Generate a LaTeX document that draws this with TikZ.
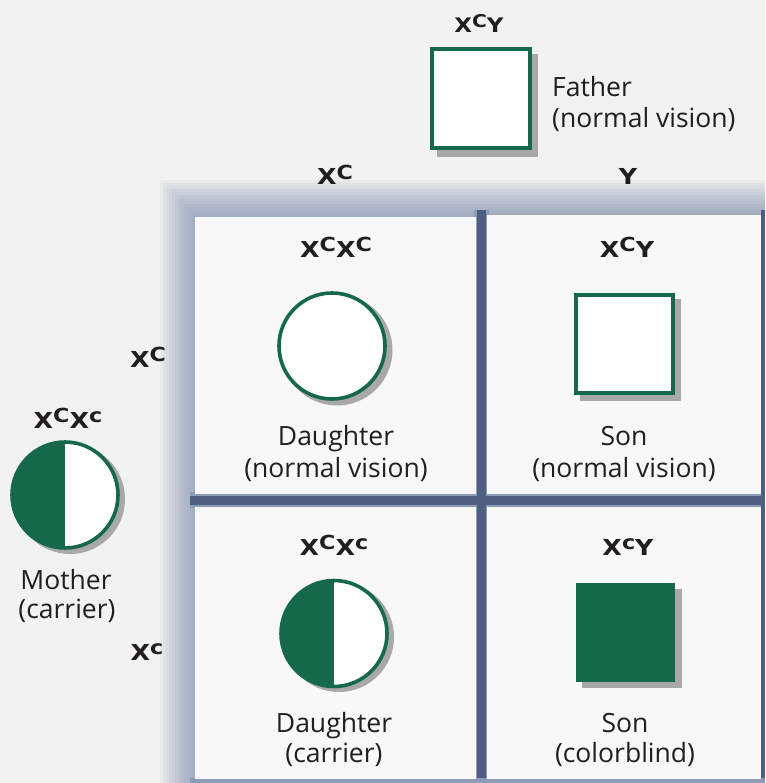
\documentclass[tikz,border=0pt]{standalone}
\usepackage{fontspec}
\setmainfont{Open Sans}
\newfontfamily\genofont{DejaVu Sans}
\usetikzlibrary{calc}
\definecolor{cgreen}{RGB}{22,104,74}
\definecolor{bgc}{RGB}{242,242,242}
\definecolor{tilec}{RGB}{248,248,249}
\definecolor{slate}{RGB}{110,128,160}
\definecolor{gapc}{RGB}{78,95,128}
\definecolor{gapsoft}{RGB}{140,155,182}
\definecolor{shad}{RGB}{168,168,168}
\definecolor{ink}{RGB}{33,30,31}
\newcommand\sx[1]{X\raisebox{0.27em}{\scalebox{0.88}{#1}}}
\newcommand\gs[1]{\scalebox{1.15}[1]{#1}}
\begin{document}
\begin{tikzpicture}[x=1pt,y=-1pt,
  txt/.style={font=\fontsize{26.5}{30}\selectfont, text=ink, anchor=base, inner sep=0pt},
  geno/.style={font=\genofont\bfseries\fontsize{22}{26}\selectfont, text=ink, anchor=base, inner sep=0pt},
  fgeno/.style={font=\genofont\bfseries\fontsize{20}{24}\selectfont, text=ink, anchor=base, inner sep=0pt},
  sqbox/.style={draw=cgreen, line width=4pt, fill=white, inner sep=0pt},
  sqfull/.style={fill=cgreen, inner sep=0pt},
  circ/.style={circle, draw=cgreen, line width=3.6pt, fill=white, inner sep=0pt, minimum size=106pt},
  halfcirc/.style={circ, path picture={\fill[cgreen] (path picture bounding box.south west) rectangle (path picture bounding box.north);}}
]
\useasboundingbox (0,0) rectangle (765,783);
\fill[bgc] (0,0) rectangle (765,783);
% tray behind the tiles
\foreach \i in {0,...,11} \fill[slate,opacity=0.065] ({160+3*\i},{180+3*\i}) rectangle (765,783);
% gaps between tiles (soft edge + dark core)
\fill[gapsoft] (190,492) rectangle (765,508);
\fill[gapsoft] (474,210) rectangle (489,783);
\fill[gapc] (190,496) rectangle (765,505);
\fill[gapc] (477,210) rectangle (486,783);
\fill[gapc] (761,210) rectangle (765,783);
\fill[gapsoft] (190,778) rectangle (765,783);
% tiles
\fill[tilec] (195,217) rectangle (476,494);
\fill[tilec] (487,215) rectangle (761,494);
\fill[tilec] (195,507) rectangle (476,779);
\fill[tilec] (487,507) rectangle (761,779);

% ---------- Father ----------
\node[fgeno] (fg) at (479,33) {\gs{\sx{C}Y}};
\fill[shad] (437,54) rectangle (538,157);
\node[sqbox, minimum width=98pt, minimum height=99pt] (fsq) at (481,98.5) {};
\node[txt, anchor=base west] (ft1) at (552,97) {Father};
\node[txt, anchor=base west] (ft2) at (552,128) {(normal vision)};

% ---------- column / row labels ----------
\node[geno] (cx) at (335,185) {\gs{\sx{C}}};
\node[geno] (cy) at (628,185) {\gs{Y}};
\node[geno] (rx) at (148,367) {\gs{\sx{C}}};
\node[geno] (rxc) at (147,660) {\gs{\sx{c}}};

% ---------- Mother ----------
\node[geno] (mg) at (68,428) {\gs{\sx{C}\sx{c}}};
\fill[shad] (70,499) circle (55);
\node[halfcirc] (mc) at (65,495) {};
\node[txt] (mt1) at (66,589) {Mother};
\node[txt] (mt2) at (67,618) {(carrier)};

% ---------- top-left tile ----------
\node[geno] (g1) at (336,257.5) {\gs{\sx{C}\sx{C}}};
\fill[shad] (337,350) circle (55.5);
\node[circ] (c1) at (332,346) {};
\node[txt] (d1a) at (336,445) {Daughter};
\node[txt] (d1b) at (336,477) {(normal vision)};

% ---------- top-right tile ----------
\node[geno] (g2) at (627,257.5) {\gs{\sx{C}Y}};
\fill[shad] (580,299) rectangle (681,401);
\node[sqbox, minimum width=97pt, minimum height=98pt] (s2) at (624,344) {};
\node[txt] (s2a) at (624,445) {Son};
\node[txt] (s2b) at (624,477) {(normal vision)};

% ---------- bottom-left tile ----------
\node[geno] (g3) at (334,555) {\gs{\sx{C}\sx{c}}};
\fill[shad] (339,637) circle (55);
\node[halfcirc] (c3) at (334,633.5) {};
\node[txt] (d3a) at (334,732) {Daughter};
\node[txt] (d3b) at (334,762) {(carrier)};

% ---------- bottom-right tile ----------
\node[geno] (g4) at (628,555) {\gs{\sx{c}Y}};
\fill[shad] (582,589) rectangle (682,688);
\node[sqfull, minimum width=99pt, minimum height=99pt] (s4) at (625,632.5) {};
\node[txt] (s4a) at (625,732) {Son};
\node[txt] (s4b) at (625,762) {(colorblind)};
\end{tikzpicture}
\end{document}
